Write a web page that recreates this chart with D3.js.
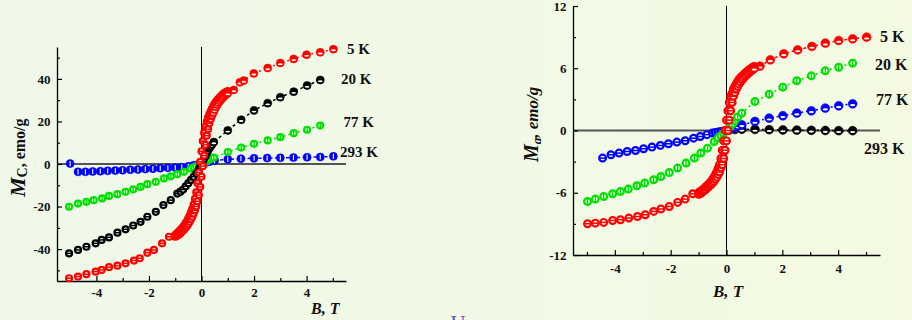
<!DOCTYPE html>
<html><head><meta charset="utf-8">
<script src="https://cdn.jsdelivr.net/npm/d3@7"></script>
<style>html,body{margin:0;padding:0;overflow:hidden;}svg{display:block;}</style>
</head><body>
<svg id="c" width="912" height="320"></svg>
<script>
// ---------- data ----------
const fieldTicks = [-4, -2, 0, 2, 4];
const fieldMinor = [-5, -3, -1, 1, 3, 5];
const mcTicks = [-40, -20, 0, 20, 40];
const mcMinor = [-50, -30, -10, 10, 30, 50];
const maTicks = [-12, -6, 0, 6, 12];
const maMinor = [-9, -3, 3, 9];
const tempLabels = ["5 K", "20 K", "77 K", "293 K"];

// left panel (M_c, emo/g) — [B, M]
const mc5K = [[-5.04,-53.7],[-4.7,-52.9],[-4.38,-51.8],[-4.03,-50.6],[-3.8,-49.8],[-3.52,-48.5],[-3.2,-47.8],[-2.89,-46.7],[-2.57,-45.4],[-2.35,-44.3],[-2.06,-41.7],[-1.81,-40.4],[-1.5,-37.3],[-1.24,-34.2],
  [-1.0,-33.3],[-0.95,-32.9],[-0.9,-32.3],[-0.85,-31.7],[-0.8,-31],[-0.75,-30.4],[-0.7,-29.6],[-0.65,-28.8],[-0.6,-27.8],[-0.55,-26.8],[-0.5,-25.5],[-0.45,-24.2],[-0.4,-22.7],[-0.35,-21.1],[-0.3,-19.1],[-0.25,-16.4],[-0.2,-13.3],[-0.15,-9],[-0.1,-4],[-0.05,1],
  [0,6],[0.05,10.8],[0.1,14.6],[0.15,17.5],[0.2,19.9],[0.25,21.8],[0.3,23.3],[0.35,24.8],[0.4,26],[0.45,27.2],[0.5,28.2],[0.55,29.1],[0.6,29.9],[0.65,30.6],[0.7,31.3],[0.75,31.9],[0.8,32.5],[0.85,33.1],[0.9,33.5],[0.95,33.9],[1.0,34.2],
  [1.23,34.8],[1.46,38.4],[1.61,39.2],[1.99,42.6],[2.52,45.1],[3.0,47.5],[3.51,49.4],[4.0,51.4],[4.52,52.5],[5.02,54]];
const mc5Kasc = [[-1.0,-34.2],[-0.95,-33.9],[-0.9,-33.5],[-0.85,-33.1],[-0.8,-32.5],[-0.75,-31.9],[-0.7,-31.3],[-0.65,-30.6],[-0.6,-29.9],[-0.55,-29.1],[-0.5,-28.2],[-0.45,-27.2],[-0.4,-26],[-0.35,-24.8],[-0.3,-23.3],[-0.25,-21.8],[-0.2,-19.9],[-0.15,-17.5],[-0.1,-14.6],[-0.05,-10.8],
  [0,-6],[0.05,-1],[0.1,4],[0.15,9],[0.2,13.3],[0.25,16.4],[0.3,19.1],[0.35,21.1],[0.4,22.7],[0.45,24.2],[0.5,25.5],[0.55,26.8],[0.6,27.8],[0.65,28.8],[0.7,29.6],[0.75,30.4],[0.8,31],[0.85,31.7],[0.9,32.3],[0.95,32.9],[1.0,33.3]];
const mc20K = [[-5.04,-42],[-4.7,-40.4],[-4.38,-38.9],[-4.03,-37.3],[-3.8,-35.7],[-3.52,-34.5],[-3.2,-32.3],[-2.89,-30.7],[-2.6,-28.9],[-2.32,-27.2],[-2.06,-24.8],[-1.74,-22.5],[-1.45,-19.3],[-1.17,-17],[-0.92,-13.9],
  [-0.8,-13],[-0.7,-12],[-0.6,-10.5],[-0.5,-9],[-0.4,-7.5],[-0.3,-6],[-0.2,-4.5],[-0.1,-2.5],[-0.05,-1.2],[0,0],[0.05,1.2],[0.1,2.5],[0.15,3.8],[0.2,5],[0.25,6.2],[0.3,7.3],[0.35,8.2],[0.4,9],
  [0.47,10.3],[1.0,15.8],[1.51,20.8],[2.0,25.2],[2.52,28.6],[3.0,31.4],[3.51,34],[4.02,36.9],[4.52,39.5]];
const mc77K = [[-5.04,-20.1],[-4.7,-18.6],[-4.38,-17.8],[-4.1,-17],[-3.78,-16.2],[-3.52,-15],[-3.2,-14.2],[-2.89,-13.1],[-2.6,-11.9],[-2.32,-10.8],[-2.06,-9.5],[-1.74,-8.4],[-1.43,-6.8],[-1.17,-5.8],[-0.92,-4.8],[-0.67,-3.7],[-0.41,-2.2],
  [-0.3,-1.6],[-0.2,-1.1],[-0.1,-0.5],[0,0],[0.1,0.6],[0.2,1.3],[0.3,2.0],[0.4,2.7],
  [0.47,3.0],[1.0,5.6],[1.51,7.7],[2.0,9.5],[2.52,11.1],[3.0,12.6],[3.51,14.5],[4.02,16.1],[4.52,18.1]];
const mc293K = [[-5.0,0.2],[-4.7,-3.7],[-4.42,-3.7],[-4.14,-3.5],[-3.85,-3.4],[-3.57,-3.2],[-3.28,-3.1],[-3.0,-2.9],[-2.71,-2.7],[-2.42,-2.6],[-2.14,-2.4],[-1.85,-2.2],[-1.57,-2.0],[-1.28,-1.8],[-1.0,-1.7],[-0.75,-1.5],[-0.5,-1.1],[-0.3,-0.6],[-0.15,-0.3],[0,0],[0.15,0.6],[0.3,1.1],
  [0.5,1.6],[1.0,2.2],[1.5,2.5],[2.0,2.7],[2.5,2.8],[3.0,2.9],[3.5,3.0],[4.02,3.2],[4.52,3.3],[5.02,3.6]];

// right panel (M_a, emo/g) — [B, M]
const ma5K = [[-4.98,-8.99],[-4.7,-8.93],[-4.4,-8.86],[-4.08,-8.67],[-3.8,-8.6],[-3.5,-8.44],[-3.19,-8.29],[-2.91,-8.12],[-2.61,-7.8],[-2.35,-7.57],[-2.05,-7.32],[-1.75,-6.93],[-1.48,-6.61],[-1.21,-6.1],
  [-1.0,-6.0],[-0.95,-5.9],[-0.9,-5.8],[-0.85,-5.7],[-0.8,-5.58],[-0.75,-5.45],[-0.7,-5.33],[-0.65,-5.2],[-0.6,-5.05],[-0.55,-4.9],[-0.5,-4.7],[-0.45,-4.5],[-0.4,-4.25],[-0.35,-4.0],[-0.3,-3.65],[-0.25,-3.3],[-0.2,-2.7],[-0.15,-1.9],[-0.1,-1.0],[-0.05,0],
  [0,1.0],[0.05,1.9],[0.1,2.7],[0.15,3.3],[0.2,3.6],[0.25,4.0],[0.3,4.25],[0.35,4.5],[0.4,4.7],[0.45,4.9],[0.5,5.05],[0.55,5.2],[0.6,5.3],[0.65,5.45],[0.7,5.55],[0.75,5.7],[0.8,5.8],[0.85,5.9],[0.9,6.0],[0.95,6.1],[1.0,6.15],
  [1.2,6.2],[1.57,6.81],[2.05,7.39],[2.55,7.77],[3.06,8.1],[3.54,8.42],[4.02,8.67],[4.52,8.83],[5.02,9.0]];
const ma5Kasc = [[-1.0,-6.15],[-0.95,-6.1],[-0.9,-6.0],[-0.85,-5.9],[-0.8,-5.8],[-0.75,-5.7],[-0.7,-5.55],[-0.65,-5.45],[-0.6,-5.3],[-0.55,-5.2],[-0.5,-5.05],[-0.45,-4.9],[-0.4,-4.7],[-0.35,-4.5],[-0.3,-4.25],[-0.25,-4.0],[-0.2,-3.6],[-0.15,-3.3],[-0.1,-2.7],[-0.05,-1.9],
  [0,-1.0],[0.05,0],[0.1,1.0],[0.15,1.9],[0.2,2.7],[0.25,3.3],[0.3,3.65],[0.35,4.0],[0.4,4.25],[0.45,4.5],[0.5,4.7],[0.55,4.9],[0.6,5.05],[0.65,5.2],[0.7,5.33],[0.75,5.45],[0.8,5.58],[0.85,5.7],[0.9,5.8],[0.95,5.9],[1.0,6.0]];
const ma20K = [[-4.98,-6.84],[-4.7,-6.61],[-4.4,-6.36],[-4.08,-6.1],[-3.8,-5.88],[-3.52,-5.65],[-3.21,-5.33],[-2.93,-5.07],[-2.61,-4.75],[-2.35,-4.43],[-2.05,-4.05],[-1.75,-3.62],[-1.45,-3.14],[-1.15,-2.66],[-0.92,-2.18],[-0.68,-1.7],[-0.44,-1.06],
  [-0.3,-0.72],[-0.2,-0.48],[-0.1,-0.24],[0,0],[0.1,0.3],[0.2,0.6],[0.3,0.95],[0.4,1.3],
  [0.55,1.67],[1.02,2.8],[1.53,3.5],[2.02,4.18],[2.52,4.79],[3.04,5.27],[3.54,5.75],[4.02,6.1],[4.52,6.49]];
const ma77K = [[-4.44,-2.66],[-4.14,-2.34],[-3.85,-2.18],[-3.56,-2.02],[-3.26,-1.93],[-2.97,-1.76],[-2.67,-1.6],[-2.37,-1.44],[-2.08,-1.28],[-1.78,-1.12],[-1.48,-0.99],[-1.18,-0.74],[-0.94,-0.58],[-0.7,-0.4],[-0.5,-0.25],
  [-0.4,-0.2],[-0.3,-0.14],[-0.2,-0.09],[-0.1,-0.04],[0,0],[0.1,0.1],[0.2,0.2],[0.3,0.3],[0.4,0.42],
  [0.55,0.55],[1.02,0.87],[1.53,1.19],[2.02,1.42],[2.52,1.68],[3.04,1.9],[3.54,2.16],[4.02,2.38],[4.52,2.57]];
const ma293K = [[0.1,0.05],[0.3,0.1],[0.55,0.12],[1.02,0.1],[1.53,0.08],[2.02,0.05],[2.52,0.04],[3.04,0.02],[3.54,0.0],[4.02,-0.02],[4.52,-0.02]];

// ---------- drawing ----------
const svg = d3.select("#c");
const defs = svg.append("defs");
const grad = defs.append("linearGradient").attr("id","bg").attr("x1","0").attr("x2","1").attr("y1","0").attr("y2","0");
grad.append("stop").attr("offset","0").attr("stop-color","#EFF8E9");
grad.append("stop").attr("offset","1").attr("stop-color","#F4FAE2");
svg.append("rect").attr("width",912).attr("height",320).attr("fill","url(#bg)");

const FONT = "'Liberation Serif','Times New Roman',serif";

// fragments of slide text cut by the frame (descenders only)
[93,174,218].forEach(x => svg.append("text").attr("x",x).attr("y",-4.6).attr("font-family",FONT)
  .attr("font-size",20).attr("fill","#6B63C6").text("g"));
svg.append("text").attr("x",450.5).attr("y",330).attr("font-family",FONT).attr("font-size",21)
  .attr("fill","#5555B5").text("U");

function marker(g, cx, cy, r, color, type) {
  if (type === "bead") {
    g.append("circle").attr("cx",cx).attr("cy",cy).attr("r",r).attr("fill",color).attr("stroke",color).attr("stroke-width",0.6);
    g.append("ellipse").attr("cx",cx).attr("cy",cy+r*0.3).attr("rx",r*0.6).attr("ry",r*0.24).attr("fill","#fff");
  } else if (type === "ringH" || type === "ringV") {
    g.append("circle").attr("cx",cx).attr("cy",cy).attr("r",r-1).attr("fill","#fff").attr("stroke",color).attr("stroke-width",2.2);
    if (type === "ringH") g.append("line").attr("x1",cx-r+1).attr("x2",cx+r-1).attr("y1",cy).attr("y2",cy).attr("stroke",color).attr("stroke-width",1.5);
    else g.append("line").attr("x1",cx).attr("x2",cx).attr("y1",cy-r+1).attr("y2",cy+r-1).attr("stroke",color).attr("stroke-width",1.5);
  } else if (type === "vslit") {
    g.append("circle").attr("cx",cx).attr("cy",cy).attr("r",r).attr("fill",color).attr("stroke",color).attr("stroke-width",0.6);
    g.append("line").attr("x1",cx).attr("x2",cx).attr("y1",cy-r*0.65).attr("y2",cy+r*0.65).attr("stroke","#fff").attr("stroke-width",1.1);
  }
}

function panel(cfg) {
  const x = d3.scaleLinear().domain([-5.5,5.5]).range(cfg.xr);
  const y = d3.scaleLinear().domain(cfg.yd).range(cfg.yr);
  const g = svg.append("g");
  g.append("line").attr("x1",cfg.xr[0]).attr("x2",cfg.xr[1]).attr("y1",y(0)).attr("y2",y(0))
    .attr("stroke","#555").attr("stroke-width",2);
  g.append("line").attr("x1",x(0)).attr("x2",x(0)).attr("y1",cfg.yr[1]).attr("y2",cfg.yr[0])
    .attr("stroke","#000").attr("stroke-width",1);
  const ax = g.append("g").attr("transform",`translate(0,${cfg.yr[0]})`)
    .call(d3.axisBottom(x).tickValues(fieldTicks).tickSizeInner(-5).tickSizeOuter(0).tickPadding(cfg.xpad).tickFormat(d3.format("d")));
  const axm = g.append("g").attr("transform",`translate(0,${cfg.yr[0]})`)
    .call(d3.axisBottom(x).tickValues(fieldMinor).tickSizeInner(-3).tickSizeOuter(0).tickFormat(""));
  axm.select(".domain").remove();
  const ay = g.append("g").attr("transform",`translate(${cfg.xr[0]},0)`)
    .call(d3.axisLeft(y).tickValues(cfg.yt).tickSizeInner(-5).tickSizeOuter(0).tickPadding(6.5).tickFormat(d3.format("d")));
  const aym = g.append("g").attr("transform",`translate(${cfg.xr[0]},0)`)
    .call(d3.axisLeft(y).tickValues(cfg.ym).tickSizeInner(-3).tickSizeOuter(0).tickFormat(""));
  aym.select(".domain").remove();
  [ax,axm,ay,aym].forEach(a => {
    a.selectAll(".domain").attr("stroke","#000").attr("stroke-width",1.3);
    a.selectAll(".tick line").attr("stroke","#000").attr("stroke-width",1.2);
    a.selectAll("text").attr("font-family",FONT).attr("font-weight","bold").attr("font-size",13).attr("fill","#111");
  });
  ax.selectAll("text").text(d => d < 0 ? "-" + Math.abs(d) : d);
  ay.selectAll("text").text(d => d < 0 ? "-" + Math.abs(d) : d);

  const line = d3.line().x(d => x(d[0])).y(d => y(d[1]));
  cfg.series.forEach(s => {
    g.append("path").datum(s.data.filter(d => d[0] > 0.3)).attr("d",line).attr("fill","none")
      .attr("stroke",s.color).attr("stroke-width",1.5).attr("stroke-dasharray",s.dash);
    const mg = g.append("g");
    const pts = s.extra ? s.data.concat(s.extra) : s.data;
    pts.forEach(d => marker(mg, x(d[0]), y(d[1]), cfg.r, s.color, d[0] > 0.42 ? s.pos : s.neg));
  });
  tempLabels.forEach((t,i) => g.append("text").attr("x",cfg.lab[i][0]).attr("y",cfg.lab[i][1])
    .attr("font-family",FONT).attr("font-weight","bold").attr("font-size",cfg.labSize).attr("fill","#111").text(t));
  g.append("text").attr("x",cfg.bt[0]).attr("y",cfg.bt[1]).attr("font-family",FONT).attr("font-weight","bold")
    .attr("font-style","italic").attr("font-size",cfg.btSize).attr("fill","#111").text("B, T");
  return g;
}

const red = "#FF0000", black = "#000000", green = "#00E000", blue = "#0000FF";

panel({
  xr:[57,346], yr:[281,47], yd:[-55,55], yt:mcTicks, ym:mcMinor, xpad:6.5, r:4,
  series:[
    {data:mc293K, color:blue, dash:"3,2.5", pos:"vslit", neg:"vslit"},
    {data:mc77K, color:green, dash:"2,3", pos:"ringV", neg:"ringV"},
    {data:mc20K, color:black, dash:"3,3", pos:"bead", neg:"ringH"},
    {data:mc5K, extra:mc5Kasc, color:red, dash:"2,3", pos:"bead", neg:"ringH"}
  ],
  lab:[[347,53.5],[341,83.5],[343.5,126.5],[340,156.5]], labSize:15,
  bt:[311,314], btSize:16
});
panel({
  xr:[573,880], yr:[255,6], yd:[-12,12], yt:maTicks, ym:maMinor, xpad:9, r:4.4,
  series:[
    {data:ma293K, color:black, dash:"2,3", pos:"bead", neg:"bead"},
    {data:ma77K, color:blue, dash:"2,3", pos:"bead", neg:"ringH"},
    {data:ma20K, color:green, dash:"2,3", pos:"ringV", neg:"ringV"},
    {data:ma5K, extra:ma5Kasc, color:red, dash:"3,3", pos:"bead", neg:"ringH"}
  ],
  lab:[[880,41.5],[875,70],[876,105],[864,153.5]], labSize:16,
  bt:[713,296.5], btSize:17
});

const t1 = svg.append("text").attr("transform","translate(25,197) rotate(-90)")
  .attr("font-family",FONT).attr("font-weight","bold").attr("fill","#111");
t1.append("tspan").attr("font-style","italic").attr("font-size",22).text("M");
t1.append("tspan").attr("font-size",14).attr("dy",2).text("C");
t1.append("tspan").attr("font-size",16).attr("dy",-2).text(", emo/g");
const t2 = svg.append("text").attr("transform","translate(538,162) rotate(-90)")
  .attr("font-family",FONT).attr("font-weight","bold").attr("font-style","italic").attr("fill","#111");
t2.append("tspan").attr("font-size",20).text("M");
t2.append("tspan").attr("font-size",13).attr("dy",3).text("a");
t2.append("tspan").attr("font-size",17).attr("dy",-3).text(", emo/g");
</script>
</body></html>
